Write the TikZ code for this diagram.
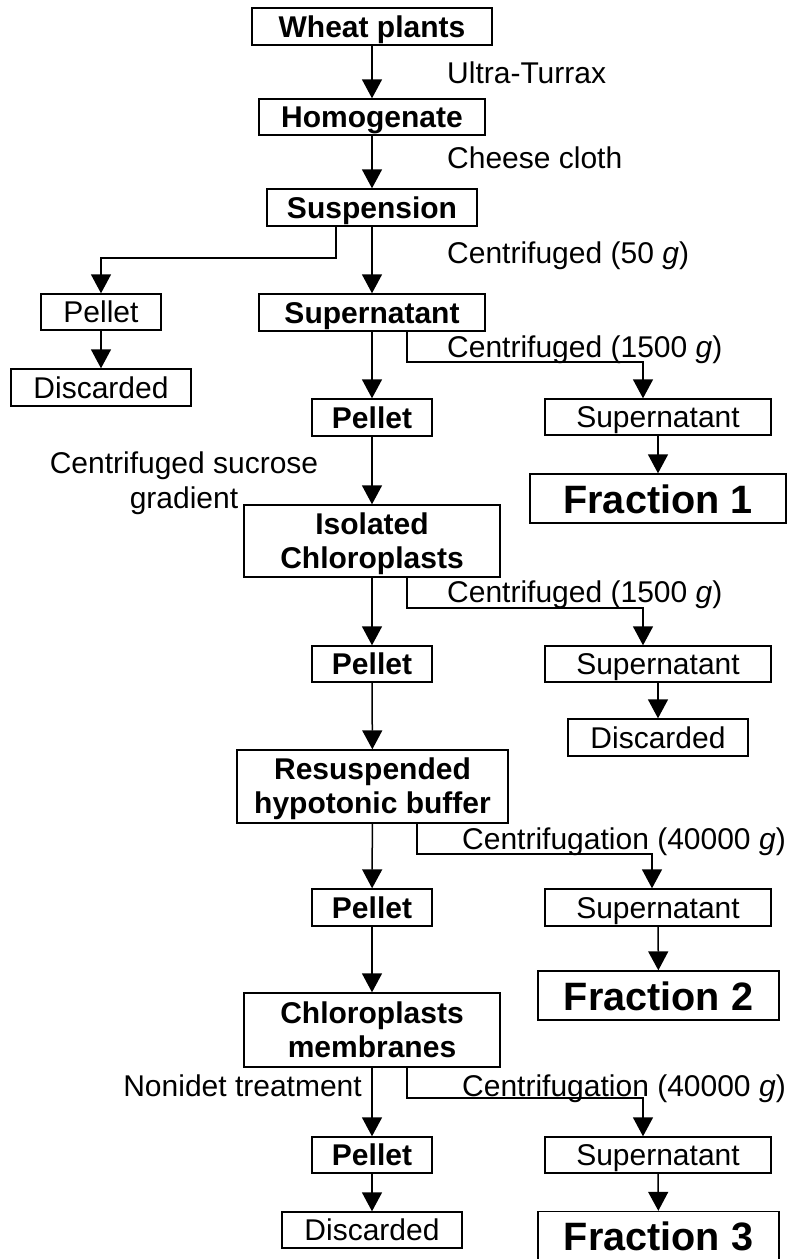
\documentclass[tikz,border=0pt]{standalone}
\usepackage{fontspec}
\setmainfont{Liberation Sans}
\usetikzlibrary{arrows.meta}
\tikzset{
  box/.style={draw, line width=1.4pt, inner sep=0pt, align=center, font=\fontsize{30}{34}\selectfont},
  one/.style={text height=21pt, text depth=0pt},
  bbox/.style={box, font=\fontsize{30}{34}\selectfont\bfseries},
  fbox/.style={box, font=\fontsize{39.6}{44}\selectfont\bfseries, text height=29.5pt, text depth=0pt},
  lbl/.style={inner sep=0pt, font=\fontsize{30}{35}\selectfont},
  conn/.style={line width=1.5pt, -{Triangle[length=19pt,width=20pt]}},
}
\begin{document}
\begin{tikzpicture}[x=1pt,y=-1pt]
\clip (0,0) rectangle (787,1259);
\useasboundingbox (0,0) rectangle (787,1259);
% main column
\node[bbox, one, minimum width=240pt, minimum height=37pt] (wheat) at (372,26.5) {Wheat plants};
\node[bbox, one, minimum width=226pt, minimum height=36pt] (homog) at (372,117) {Homogenate};
\node[bbox, one, minimum width=210pt, minimum height=37pt] (susp) at (372,207.5) {Suspension};
\node[box, one, minimum width=120pt, minimum height=36pt] (pelletL) at (101,312) {Pellet};
\node[box, one, minimum width=180pt, minimum height=37pt] (discL) at (101,387.5) {Discarded};
\node[bbox, one, minimum width=226pt, minimum height=37pt] (super1) at (372,312.5) {Supernatant};
\node[bbox, one, minimum width=120pt, minimum height=37pt] (pellet1) at (372,417.5) {Pellet};
\node[box, one, minimum width=226pt, minimum height=36pt] (superR1) at (658,417) {Supernatant};
\node[fbox, minimum width=256pt, minimum height=49pt] (frac1) at (658,498.5) {Fraction 1};
\node[bbox, minimum width=256pt, minimum height=72pt] (iso) at (372,541) {\rule{0pt}{28pt}Isolated\\Chloroplasts};
\node[bbox, one, minimum width=120pt, minimum height=36pt] (pellet2) at (372,664) {Pellet};
\node[box, one, minimum width=226pt, minimum height=36pt] (superR2) at (658,664) {Supernatant};
\node[box, one, minimum width=180pt, minimum height=37pt] (discR) at (658,737.5) {Discarded};
\node[bbox, minimum width=271pt, minimum height=73pt] (resus) at (372.5,786.5) {\rule{0pt}{26.5pt}Resuspended\\hypotonic buffer};
\node[bbox, one, minimum width=120pt, minimum height=37pt] (pellet3) at (372,907.5) {Pellet};
\node[box, one, minimum width=226pt, minimum height=37pt] (superR3) at (658,907.5) {Supernatant};
\node[fbox, minimum width=241pt, minimum height=49pt] (frac2) at (658.5,995.5) {Fraction 2};
\node[bbox, minimum width=256pt, minimum height=74pt] (membr) at (372,1030) {Chloroplasts\\membranes};
\node[bbox, one, minimum width=120pt, minimum height=36pt] (pellet4) at (372,1155) {Pellet};
\node[box, one, minimum width=226pt, minimum height=36pt] (superR4) at (658,1155) {Supernatant};
\node[box, one, minimum width=180pt, minimum height=36pt] (discB) at (372,1230) {Discarded};
\node[fbox, minimum width=241pt, minimum height=49pt] (frac3) at (658.5,1236) {Fraction 3};
% labels
\node[lbl, anchor=base west] (l1) at (447,83) {Ultra-Turrax};
\node[lbl, anchor=base west] (l2) at (447,168) {Cheese cloth};
\node[lbl, anchor=base west] (l3) at (447,263) {Centrifuged (50 \textit{g})};
\node[lbl, anchor=base west] (l4) at (447,357) {Centrifuged (1500 \textit{g})};
\node[lbl, anchor=base, align=center] (l5) at (184,508) {Centrifuged sucrose\\gradient};
\node[lbl, anchor=base west] (l6) at (447,602) {Centrifuged (1500 \textit{g})};
\node[lbl, anchor=base west] (l7) at (462,849) {Centrifugation (40000 \textit{g})};
\node[lbl, anchor=base east] (l8) at (362,1096) {Nonidet treatment};
\node[lbl, anchor=base west] (l9) at (462,1096) {Centrifugation (40000 \textit{g})};
% connectors
\draw[conn] (wheat) -- (homog);
\draw[conn] (homog) -- (susp);
\draw[conn] (susp) -- (super1);
\draw[conn] (susp.south -| 336,0) |- (101,258) -- (pelletL);
\draw[conn] (pelletL) -- (discL);
\draw[conn] (super1) -- (pellet1);
\draw[conn] (super1.south -| 407,0) |- (643,362) -- (superR1.north -| 643,0);
\draw[conn] (superR1) -- (frac1);
\draw[conn] (pellet1) -- (iso);
\draw[conn] (iso) -- (pellet2);
\draw[conn] (iso.south -| 407,0) |- (643,608) -- (superR2.north -| 643,0);
\draw[conn] (superR2) -- (discR);
\draw[conn] (pellet2) -- (resus);
\draw[conn] (resus) -- (pellet3);
\draw[conn] (resus.south -| 417,0) |- (652,854) -- (superR3.north -| 652,0);
\draw[conn] (superR3) -- (frac2);
\draw[conn] (pellet3) -- (membr);
\draw[conn] (membr) -- (pellet4);
\draw[conn] (membr.south -| 407,0) |- (643,1098) -- (superR4.north -| 643,0);
\draw[conn] (pellet4) -- (discB);
\draw[conn] (superR4) -- (frac3);
\end{tikzpicture}
\end{document}
